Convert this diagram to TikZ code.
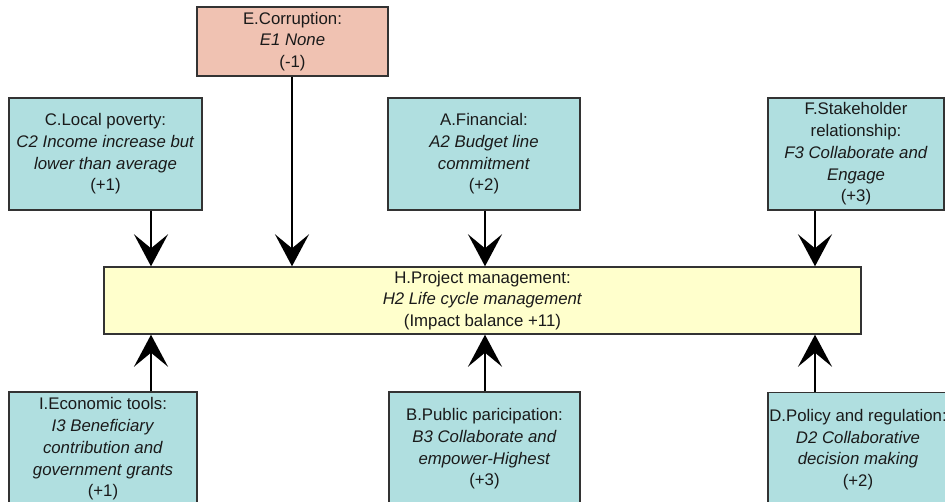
\documentclass[tikz,border=0pt]{standalone}
\usepackage{fontspec}
\setmainfont{Liberation Sans}
\usetikzlibrary{arrows.meta}

\definecolor{boxteal}{HTML}{B0DFE0}
\definecolor{boxsalmon}{HTML}{F0C2B2}
\definecolor{boxyellow}{HTML}{FFFFCC}
\definecolor{edgegray}{HTML}{333333}
\definecolor{ink}{HTML}{1A1A1A}

\begin{document}
\begin{tikzpicture}[x=1pt, y=-1pt,
  box/.style={draw=edgegray, line width=1.4pt, inner sep=0pt, align=center,
    text=ink, font=\fontsize{16.8}{21.7}\selectfont, anchor=center},
  factor/.style={box, fill=boxteal},
  link/.style={draw=black, line width=2.6pt,
    -{Stealth[length=32pt, width=34pt, inset=14pt]}}]

% page frame
\useasboundingbox (0,0) rectangle (945,501);
\clip (0,0) rectangle (945,501);

% columns used by the connectors
\coordinate (colL) at (151,0);
\coordinate (colE) at (292,0);
\coordinate (colM) at (485,0);
\coordinate (colR) at (815,0);

% central node
\node[box, fill=boxyellow, minimum width=757pt, minimum height=67pt] (H) at (482.5,300.5)
  {H.Project management:\\ \textit{H2 Life cycle management}\\ (Impact balance +11)};

% factors above
\node[box, fill=boxsalmon, minimum width=191pt, minimum height=69pt] (E) at (292.5,41.5)
  {E.Corruption:\\ \textit{E1 None}\\ (-1)};
\node[factor, minimum width=193pt, minimum height=112pt] (C) at (105.5,154)
  {C.Local poverty:\\ \textit{C2 Income increase but}\\ \textit{lower than average}\\ (+1)};
\node[factor, minimum width=192pt, minimum height=112pt] (A) at (484,154)
  {A.Financial:\\ \textit{A2 Budget line}\\ \textit{commitment}\\ (+2)};
\node[factor, minimum width=176pt, minimum height=112pt] (F) at (856,154)
  {F.Stakeholder\\ relationship:\\ \textit{F3 Collaborate and}\\ \textit{Engage}\\ (+3)};

% factors below
\node[factor, minimum width=188pt, minimum height=114pt] (I) at (103,449)
  {I.Economic tools:\\ \textit{I3 Beneficiary}\\ \textit{contribution and}\\ \textit{government grants}\\ (+1)};
\node[factor, minimum width=191pt, minimum height=114pt] (B) at (484.5,449)
  {B.Public paricipation:\\ \textit{B3 Collaborate and}\\ \textit{empower-Highest}\\ (+3)};
\node[factor, minimum width=180pt, minimum height=114pt] (D) at (858,449.5)
  {D.Policy and regulation:\\ \textit{D2 Collaborative}\\ \textit{decision making}\\ (+2)};

% connectors into the central node
\draw[link] (C.south -| colL) -- (H.north -| colL);
\draw[link] (E.south -| colE) -- (H.north -| colE);
\draw[link] (A.south -| colM) -- (H.north -| colM);
\draw[link] (F.south -| colR) -- (H.north -| colR);
\draw[link] (I.north -| colL) -- (H.south -| colL);
\draw[link] (B.north -| colM) -- (H.south -| colM);
\draw[link] (D.north -| colR) -- (H.south -| colR);
\end{tikzpicture}
\end{document}
